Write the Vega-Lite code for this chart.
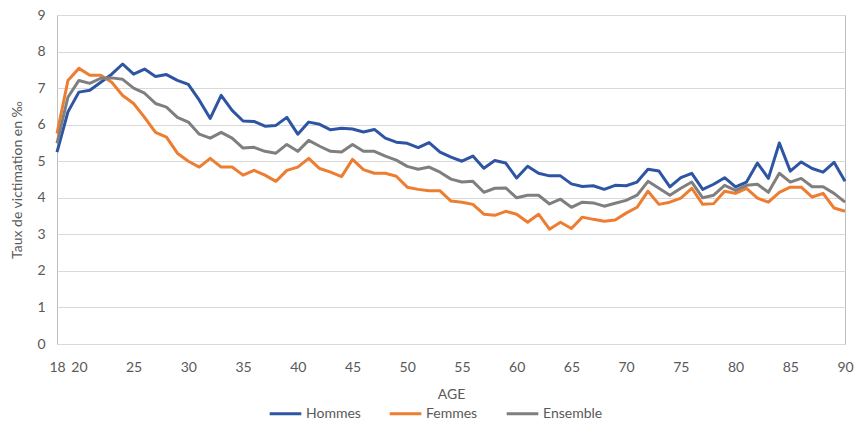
{
  "$schema": "https://vega.github.io/schema/vega-lite/v6.json",
  "autosize": "none",
  "width": 788,
  "height": 329,
  "padding": {"left": 57, "top": 15, "right": 10, "bottom": 78},
  "background": "white",
  "config": {
    "font": "Lato",
    "view": {"stroke": "#bfbfbf", "strokeWidth": 1},
    "axis": {"labelColor": "#595959", "titleColor": "#595959", "labelFontSize": 14, "titleFontSize": 14, "titleFontWeight": "normal", "gridColor": "#d9d9d9", "domain": false, "ticks": false}
  },
  "data": {"values": [
    {"age":18,"Hommes":5.25,"Femmes":5.76,"Ensemble":5.49},
    {"age":19,"Hommes":6.35,"Femmes":7.21,"Ensemble":6.75},
    {"age":20,"Hommes":6.89,"Femmes":7.54,"Ensemble":7.21},
    {"age":21,"Hommes":6.94,"Femmes":7.35,"Ensemble":7.13},
    {"age":22,"Hommes":7.16,"Femmes":7.35,"Ensemble":7.27},
    {"age":23,"Hommes":7.38,"Femmes":7.16,"Ensemble":7.28},
    {"age":24,"Hommes":7.66,"Femmes":6.8,"Ensemble":7.24},
    {"age":25,"Hommes":7.38,"Femmes":6.58,"Ensemble":7.0},
    {"age":26,"Hommes":7.52,"Femmes":6.2,"Ensemble":6.86},
    {"age":27,"Hommes":7.32,"Femmes":5.79,"Ensemble":6.58},
    {"age":28,"Hommes":7.37,"Femmes":5.66,"Ensemble":6.48},
    {"age":29,"Hommes":7.21,"Femmes":5.22,"Ensemble":6.2},
    {"age":30,"Hommes":7.1,"Femmes":5.0,"Ensemble":6.07},
    {"age":31,"Hommes":6.67,"Femmes":4.84,"Ensemble":5.74},
    {"age":32,"Hommes":6.17,"Femmes":5.08,"Ensemble":5.63},
    {"age":33,"Hommes":6.8,"Femmes":4.84,"Ensemble":5.79},
    {"age":34,"Hommes":6.39,"Femmes":4.84,"Ensemble":5.63},
    {"age":35,"Hommes":6.1,"Femmes":4.62,"Ensemble":5.36},
    {"age":36,"Hommes":6.09,"Femmes":4.75,"Ensemble":5.38},
    {"age":37,"Hommes":5.96,"Femmes":4.62,"Ensemble":5.27},
    {"age":38,"Hommes":5.98,"Femmes":4.45,"Ensemble":5.22},
    {"age":39,"Hommes":6.2,"Femmes":4.75,"Ensemble":5.46},
    {"age":40,"Hommes":5.74,"Femmes":4.84,"Ensemble":5.27},
    {"age":41,"Hommes":6.07,"Femmes":5.08,"Ensemble":5.57},
    {"age":42,"Hommes":6.01,"Femmes":4.8,"Ensemble":5.41},
    {"age":43,"Hommes":5.86,"Femmes":4.7,"Ensemble":5.27},
    {"age":44,"Hommes":5.9,"Femmes":4.58,"Ensemble":5.25},
    {"age":45,"Hommes":5.88,"Femmes":5.05,"Ensemble":5.46},
    {"age":46,"Hommes":5.8,"Femmes":4.77,"Ensemble":5.27},
    {"age":47,"Hommes":5.87,"Femmes":4.67,"Ensemble":5.27},
    {"age":48,"Hommes":5.63,"Femmes":4.67,"Ensemble":5.14},
    {"age":49,"Hommes":5.52,"Femmes":4.59,"Ensemble":5.03},
    {"age":50,"Hommes":5.49,"Femmes":4.29,"Ensemble":4.86},
    {"age":51,"Hommes":5.37,"Femmes":4.23,"Ensemble":4.78},
    {"age":52,"Hommes":5.51,"Femmes":4.19,"Ensemble":4.84},
    {"age":53,"Hommes":5.25,"Femmes":4.19,"Ensemble":4.7},
    {"age":54,"Hommes":5.11,"Femmes":3.91,"Ensemble":4.51},
    {"age":55,"Hommes":5.0,"Femmes":3.88,"Ensemble":4.43},
    {"age":56,"Hommes":5.14,"Femmes":3.82,"Ensemble":4.45},
    {"age":57,"Hommes":4.81,"Femmes":3.55,"Ensemble":4.15},
    {"age":58,"Hommes":5.02,"Femmes":3.52,"Ensemble":4.26},
    {"age":59,"Hommes":4.95,"Femmes":3.63,"Ensemble":4.27},
    {"age":60,"Hommes":4.54,"Femmes":3.55,"Ensemble":4.0},
    {"age":61,"Hommes":4.86,"Femmes":3.33,"Ensemble":4.07},
    {"age":62,"Hommes":4.67,"Femmes":3.55,"Ensemble":4.07},
    {"age":63,"Hommes":4.6,"Femmes":3.14,"Ensemble":3.83},
    {"age":64,"Hommes":4.6,"Femmes":3.33,"Ensemble":3.96},
    {"age":65,"Hommes":4.38,"Femmes":3.16,"Ensemble":3.74},
    {"age":66,"Hommes":4.31,"Femmes":3.47,"Ensemble":3.88},
    {"age":67,"Hommes":4.33,"Femmes":3.41,"Ensemble":3.86},
    {"age":68,"Hommes":4.23,"Femmes":3.36,"Ensemble":3.77},
    {"age":69,"Hommes":4.34,"Femmes":3.39,"Ensemble":3.85},
    {"age":70,"Hommes":4.33,"Femmes":3.58,"Ensemble":3.93},
    {"age":71,"Hommes":4.43,"Femmes":3.74,"Ensemble":4.07},
    {"age":72,"Hommes":4.78,"Femmes":4.18,"Ensemble":4.45},
    {"age":73,"Hommes":4.73,"Femmes":3.82,"Ensemble":4.26},
    {"age":74,"Hommes":4.3,"Femmes":3.88,"Ensemble":4.07},
    {"age":75,"Hommes":4.55,"Femmes":3.99,"Ensemble":4.26},
    {"age":76,"Hommes":4.67,"Femmes":4.26,"Ensemble":4.43},
    {"age":77,"Hommes":4.23,"Femmes":3.82,"Ensemble":4.0},
    {"age":78,"Hommes":4.37,"Femmes":3.84,"Ensemble":4.07},
    {"age":79,"Hommes":4.55,"Femmes":4.18,"Ensemble":4.34},
    {"age":80,"Hommes":4.3,"Femmes":4.12,"Ensemble":4.2},
    {"age":81,"Hommes":4.43,"Femmes":4.26,"Ensemble":4.34},
    {"age":82,"Hommes":4.95,"Femmes":3.99,"Ensemble":4.37},
    {"age":83,"Hommes":4.53,"Femmes":3.88,"Ensemble":4.15},
    {"age":84,"Hommes":5.5,"Femmes":4.15,"Ensemble":4.67},
    {"age":85,"Hommes":4.73,"Femmes":4.29,"Ensemble":4.43},
    {"age":86,"Hommes":4.98,"Femmes":4.29,"Ensemble":4.53},
    {"age":87,"Hommes":4.8,"Femmes":4.02,"Ensemble":4.3},
    {"age":88,"Hommes":4.7,"Femmes":4.12,"Ensemble":4.3},
    {"age":89,"Hommes":4.97,"Femmes":3.72,"Ensemble":4.12},
    {"age":90,"Hommes":4.45,"Femmes":3.63,"Ensemble":3.88}
  ]},
  "transform": [{"fold": ["Hommes", "Femmes", "Ensemble"], "as": ["serie", "taux"]}],
  "mark": {"type": "line", "strokeWidth": 3, "strokeJoin": "round"},
  "encoding": {
    "x": {"field": "age", "type": "quantitative", "title": "AGE",
      "scale": {"domain": [18, 90], "nice": false, "zero": false},
      "axis": {"values": [18,20,25,30,35,40,45,50,55,60,65,70,75,80,85,90], "grid": false, "labelPadding": 16, "titlePadding": 13, "labelFlush": false, "labelOverlap": false}},
    "y": {"field": "taux", "type": "quantitative", "title": "Taux de victimation en ‰",
      "scale": {"domain": [0, 9], "nice": false},
      "axis": {"values": [0,1,2,3,4,5,6,7,8,9], "labelPadding": 12, "titlePadding": 12}},
    "color": {"field": "serie", "type": "nominal", "sort": ["Hommes", "Femmes", "Ensemble"],
      "scale": {"domain": ["Hommes", "Femmes", "Ensemble"], "range": ["#2e55a3", "#ed7d31", "#7f7f7f"]},
      "legend": {"title": null, "orient": "none", "direction": "horizontal", "legendX": 211, "legendY": 381,
        "symbolType": "stroke", "symbolSize": 1000, "symbolStrokeWidth": 3, "labelFontSize": 14, "labelColor": "#595959", "columnPadding": 22, "labelOffset": 3}}
  }
}
